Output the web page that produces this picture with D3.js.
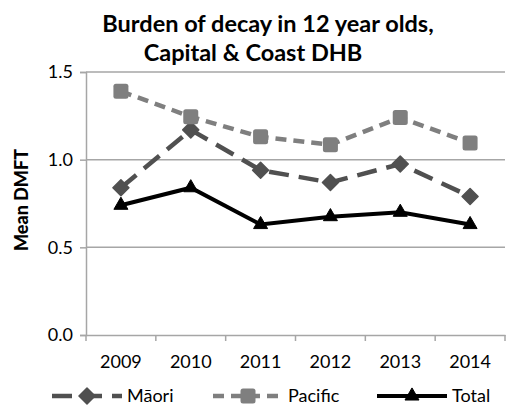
<!DOCTYPE html>
<html>
<head>
<meta charset="utf-8">
<script src="https://cdn.jsdelivr.net/npm/d3@7"></script>
<style>
  body { margin: 0; background: #fff; }
  svg { display: block; font-family: Lato, "Open Sans", sans-serif; }
</style>
</head>
<body>
<div id="vis"></div>
<script>
// Data
const YEARS = ["2009", "2010", "2011", "2012", "2013", "2014"];
const MAORI = [0.84, 1.17, 0.94, 0.87, 0.975, 0.79];
const PACIFIC = [1.39, 1.245, 1.13, 1.085, 1.24, 1.095];
const TOTAL = [0.74, 0.84, 0.63, 0.675, 0.70, 0.63];
const Y_TICKS = [0, 0.5, 1.0, 1.5];

const FRAME_WIDTH = 507;
const FRAME_HEIGHT = 405;
const PLOT = {left: 86, right: 505, top: 72, bottom: 335};

const X_SCALE = d3.scaleBand()
    .domain(YEARS)
    .range([PLOT.left, PLOT.right]);
const Y_SCALE = d3.scaleLinear()
    .domain([0, 1.5])
    .range([PLOT.bottom, PLOT.top]);

const SVG = d3.select("#vis")
    .append("svg")
    .attr("width", FRAME_WIDTH)
    .attr("height", FRAME_HEIGHT);

// title
SVG.append("text")
    .attr("x", 268).attr("y", 32)
    .attr("text-anchor", "middle")
    .attr("font-size", "23.5px").attr("font-weight", "bold")
    .text("Burden of decay in 12 year olds,");
SVG.append("text")
    .attr("x", 253).attr("y", 61)
    .attr("text-anchor", "middle")
    .attr("font-size", "23.5px").attr("font-weight", "bold")
    .text("Capital & Coast DHB");

// gridlines
SVG.append("g")
    .selectAll("line")
    .data(Y_TICKS.filter(d => d > 0))
    .enter()
    .append("line")
    .attr("x1", PLOT.left).attr("x2", PLOT.right)
    .attr("y1", d => Y_SCALE(d)).attr("y2", d => Y_SCALE(d))
    .attr("stroke", "#a6a6a6").attr("stroke-width", 1.5);

// y axis
const yAxis = SVG.append("g")
    .attr("transform", "translate(" + PLOT.left + ",0)")
    .call(d3.axisLeft(Y_SCALE).tickValues(Y_TICKS).tickFormat(d3.format(".1f")).tickSize(6).tickPadding(7));
yAxis.selectAll("path, line").attr("stroke", "#a6a6a6").attr("stroke-width", 1.5);
yAxis.selectAll("text").attr("font-size", "18px").attr("fill", "#000")
    .attr("font-family", "Lato, sans-serif");

// x axis
const xAxis = SVG.append("g")
    .attr("transform", "translate(0," + PLOT.bottom + ")")
    .call(d3.axisBottom(X_SCALE).tickSize(0).tickPadding(20));
xAxis.selectAll("path").attr("stroke", "#a6a6a6").attr("stroke-width", 1.5);
xAxis.selectAll("text").attr("font-size", "18px").attr("fill", "#000")
    .attr("font-family", "Lato, sans-serif");
// tick marks between categories
xAxis.selectAll(".sep")
    .data(YEARS.concat(["end"]))
    .enter()
    .append("line")
    .attr("x1", (d, i) => PLOT.left + i * X_SCALE.step())
    .attr("x2", (d, i) => PLOT.left + i * X_SCALE.step())
    .attr("y1", 0).attr("y2", 6)
    .attr("stroke", "#a6a6a6").attr("stroke-width", 1.5);

// y label
SVG.append("text")
    .attr("transform", "translate(28,200) rotate(-90)")
    .attr("text-anchor", "middle")
    .attr("font-size", "18px")
    .style("font-weight", "900")
    .text("Mean DMFT");

const cx = (d, i) => X_SCALE(YEARS[i]) + X_SCALE.bandwidth() / 2;
const line = d3.line().x(cx).y(d => Y_SCALE(d));

const SERIES = [
    {name: "Māori", values: MAORI, color: "#505050", dash: "20,10", width: 4.5, marker: "diamond"},
    {name: "Pacific", values: PACIFIC, color: "#7f7f7f", dash: "11,7", width: 4.5, marker: "square"},
    {name: "Total", values: TOTAL, color: "#000000", dash: null, width: 4, marker: "triangle"}
];

function addMarker(sel, s) {
    if (s.marker === "square") {
        sel.append("rect")
            .attr("x", -7.5).attr("y", -7.5)
            .attr("width", 15).attr("height", 15)
            .attr("rx", 2.5)
            .attr("fill", s.color);
    } else if (s.marker === "diamond") {
        sel.append("path")
            .attr("d", "M0,-8L8,0L0,8L-8,0Z")
            .attr("fill", s.color)
            .attr("stroke", s.color)
            .attr("stroke-linejoin", "round")
            .attr("stroke-width", 1.5);
    } else {
        sel.append("path")
            .attr("d", d3.symbol().type(d3.symbolTriangle).size(85))
            .attr("fill", s.color)
            .attr("stroke", s.color)
            .attr("stroke-linejoin", "round")
            .attr("stroke-width", 1);
    }
}

SERIES.forEach(s => {
    SVG.append("path")
        .datum(s.values)
        .attr("d", line)
        .attr("fill", "none")
        .attr("stroke", s.color)
        .attr("stroke-width", s.width)
        .attr("stroke-dasharray", s.dash);
    SVG.append("g")
        .selectAll("g")
        .data(s.values)
        .enter()
        .append("g")
        .attr("transform", (d, i) => "translate(" + cx(d, i) + "," + Y_SCALE(d) + ")")
        .each(function () { addMarker(d3.select(this), s); });
});

// legend
const LEGEND_X = [52, 213, 377];
const legend = SVG.append("g").attr("transform", "translate(0,396)");
SERIES.forEach((s, i) => {
    const g = legend.append("g").attr("transform", "translate(" + LEGEND_X[i] + ",0)");
    g.append("line")
        .attr("x1", 0).attr("x2", 70)
        .attr("stroke", s.color).attr("stroke-width", s.width)
        .attr("stroke-dasharray", s.dash);
    addMarker(g.append("g").attr("transform", "translate(35,0)"), s);
    g.append("text")
        .attr("x", 75).attr("y", 6)
        .attr("font-size", "18px")
        .text(s.name);
});
</script>
</body>
</html>
